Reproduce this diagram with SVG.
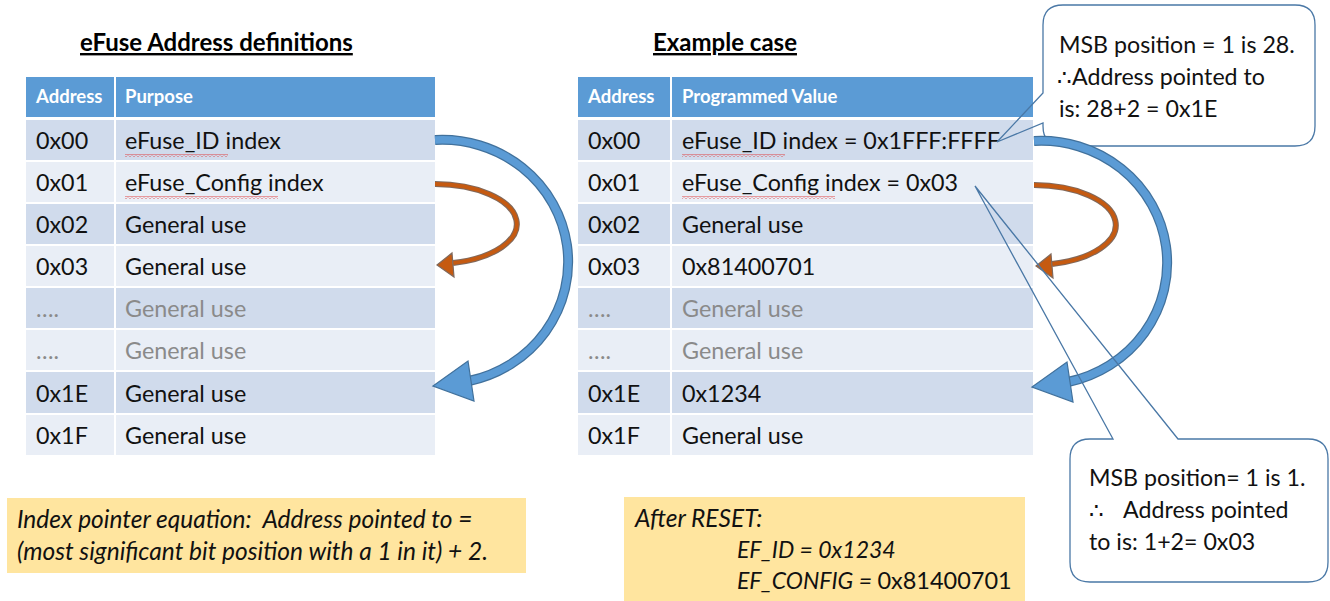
<svg xmlns="http://www.w3.org/2000/svg" width="1330" height="601" viewBox="0 0 1330 601">
<style>
text{font-family:Lato,"Open Sans","Liberation Sans",sans-serif;}
.title{font-size:24px;font-weight:bold;fill:#000;text-decoration:underline;}
.hdr{fill:#5B9BD5;}
.hd{font-size:18.5px;font-weight:bold;fill:#fff;}
.dk{fill:#D0DBEC;}
.lt{fill:#E9EEF6;}
.c{font-size:23.3px;fill:#111;}
.g{font-size:23.3px;fill:#8A8A8A;}
.note{fill:#FFE59F;}
.it{font-size:24.5px;font-style:italic;fill:#111;}
.it2{font-size:23px;font-style:italic;fill:#111;}
.up{font-size:23.5px;fill:#111;}
.co{font-size:23.2px;fill:#111;}
.cob{fill:#fff;stroke:none;}
.col{fill:none;stroke:#4A78A6;stroke-width:1.3;}
.bo{fill:none;stroke:#41719C;stroke-width:10;}
.bi{fill:none;stroke:#5B9BD5;stroke-width:7.5;}
.bh{fill:#5B9BD5;stroke:#41719C;stroke-width:1.2;}
.oo{fill:none;stroke:#80695C;stroke-width:6;}
.oi{fill:none;stroke:#C55A11;stroke-width:3.8;}
.oh{fill:#C55A11;stroke:#80695C;stroke-width:1.2;}
</style>
<defs>
<pattern id="sq" width="4" height="3" patternUnits="userSpaceOnUse">
<path d="M0,2.5 L2,0.5 L4,2.5" fill="none" stroke="#E03030" stroke-width="0.9"/>
</pattern>
</defs>

<g id="left-title"><text class="title" x="80" y="51">eFuse Address definitions</text></g>
<g id="right-title"><text class="title" x="653" y="51">Example case</text></g>

<g id="left-table">
<rect class="hdr" x="26" y="77" width="88" height="40"/>
<rect class="hdr" x="116" y="77" width="319" height="40"/>
<text class="hd" x="36" y="103">Address</text>
<text class="hd" x="125" y="103">Purpose</text>
<rect class="dk" x="26" y="120" width="88" height="40"/><rect class="dk" x="116" y="120" width="319" height="40"/>
<rect class="lt" x="26" y="162" width="88" height="40"/><rect class="lt" x="116" y="162" width="319" height="40"/>
<rect class="dk" x="26" y="204" width="88" height="40"/><rect class="dk" x="116" y="204" width="319" height="40"/>
<rect class="lt" x="26" y="246" width="88" height="40"/><rect class="lt" x="116" y="246" width="319" height="40"/>
<rect class="dk" x="26" y="288" width="88" height="40"/><rect class="dk" x="116" y="288" width="319" height="40"/>
<rect class="lt" x="26" y="330" width="88" height="40"/><rect class="lt" x="116" y="330" width="319" height="40"/>
<rect class="dk" x="26" y="372" width="88" height="41"/><rect class="dk" x="116" y="372" width="319" height="41"/>
<rect class="lt" x="26" y="415" width="88" height="40"/><rect class="lt" x="116" y="415" width="319" height="40"/>
<text class="c" x="36" y="149">0x00</text><text class="c" x="125" y="149">eFuse_ID index</text>
<text class="c" x="36" y="191">0x01</text><text class="c" x="125" y="191">eFuse_Config index</text>
<text class="c" x="36" y="233">0x02</text><text class="c" x="125" y="233">General use</text>
<text class="c" x="36" y="275">0x03</text><text class="c" x="125" y="275">General use</text>
<text class="g" x="36" y="317">….</text><text class="g" x="125" y="317">General use</text>
<text class="g" x="36" y="359">….</text><text class="g" x="125" y="359">General use</text>
<text class="c" x="36" y="402">0x1E</text><text class="c" x="125" y="402">General use</text>
<text class="c" x="36" y="444">0x1F</text><text class="c" x="125" y="444">General use</text>
<rect x="125" y="154" width="103" height="3" fill="url(#sq)"/>
<rect x="125" y="196" width="153" height="3" fill="url(#sq)"/>
</g>

<g id="right-table">
<rect class="hdr" x="578" y="77" width="92" height="40"/>
<rect class="hdr" x="672" y="77" width="361" height="40"/>
<text class="hd" x="588" y="103">Address</text>
<text class="hd" x="682" y="103">Programmed Value</text>
<rect class="dk" x="578" y="120" width="92" height="40"/><rect class="dk" x="672" y="120" width="361" height="40"/>
<rect class="lt" x="578" y="162" width="92" height="40"/><rect class="lt" x="672" y="162" width="361" height="40"/>
<rect class="dk" x="578" y="204" width="92" height="40"/><rect class="dk" x="672" y="204" width="361" height="40"/>
<rect class="lt" x="578" y="246" width="92" height="40"/><rect class="lt" x="672" y="246" width="361" height="40"/>
<rect class="dk" x="578" y="288" width="92" height="40"/><rect class="dk" x="672" y="288" width="361" height="40"/>
<rect class="lt" x="578" y="330" width="92" height="40"/><rect class="lt" x="672" y="330" width="361" height="40"/>
<rect class="dk" x="578" y="372" width="92" height="41"/><rect class="dk" x="672" y="372" width="361" height="41"/>
<rect class="lt" x="578" y="415" width="92" height="40"/><rect class="lt" x="672" y="415" width="361" height="40"/>
<text class="c" x="588" y="149">0x00</text><text class="c" x="682" y="149">eFuse_ID index = 0x1FFF:FFFF</text>
<text class="c" x="588" y="191">0x01</text><text class="c" x="682" y="191">eFuse_Config index = 0x03</text>
<text class="c" x="588" y="233">0x02</text><text class="c" x="682" y="233">General use</text>
<text class="c" x="588" y="275">0x03</text><text class="c" x="682" y="275">0x81400701</text>
<text class="g" x="588" y="317">….</text><text class="g" x="682" y="317">General use</text>
<text class="g" x="588" y="359">….</text><text class="g" x="682" y="359">General use</text>
<text class="c" x="588" y="402">0x1E</text><text class="c" x="682" y="402">0x1234</text>
<text class="c" x="588" y="444">0x1F</text><text class="c" x="682" y="444">General use</text>
<rect x="682" y="154" width="103" height="3" fill="url(#sq)"/>
<rect x="682" y="196" width="153" height="3" fill="url(#sq)"/>
</g>

<g id="equation-note">
<rect class="note" x="7" y="498" width="519" height="75"/>
<text class="it" x="17" y="528" xml:space="preserve">Index pointer equation:  Address pointed to =</text>
<text class="it" x="17" y="560">(most significant bit position with a 1 in it) + 2.</text>
</g>

<g id="reset-note">
<rect class="note" x="624" y="497" width="401" height="104"/>
<text class="it" x="635" y="527">After RESET:</text>
<text class="it2" x="737" y="558">EF_ID = 0x1234</text>
<text x="737" y="589"><tspan class="it2">EF_CONFIG = </tspan><tspan class="up">0x81400701</tspan></text>
</g>

<g id="callout-id">
<rect class="cob" x="1043" y="5" width="272" height="141" rx="20"/>
<path class="col" d="M1063,5 H1295 Q1315,5 1315,25 V126 Q1315,146 1295,146 H1063 Q1043,146 1043,126 V123 L997,142 L1043,93 V25 Q1043,5 1063,5 Z"/>
<text class="co" x="1059" y="53">MSB position = 1 is 28.</text>
<text class="co" x="1057" y="85">∴Address pointed to</text>
<text class="co" x="1059" y="117">is: 28+2 = 0x1E</text>
</g>

<g id="callout-config">
<rect class="cob" x="1070" y="439" width="258" height="143" rx="20"/>
<text class="co" x="1089" y="486">MSB position= 1 is 1.</text>
<text class="co" x="1089" y="518">∴<tspan x="1123">Address pointed</tspan></text>
<text class="co" x="1089" y="550">to is: 1+2= 0x03</text>
</g>

<g id="connectors">
<g id="left-arrows">
<path class="bo" d="M435,140 A126 122 0 0 1 469,381"/>
<path class="bi" d="M435,140 A126 122 0 0 1 469,381"/>
<polygon class="bh" points="433,386 468,361 474,401"/>
<path class="oo" d="M435,184 A82 40 0 0 1 453,263"/>
<path class="oi" d="M435,184 A82 40 0 0 1 453,263"/>
<polygon class="oh" points="437,265 452,253 454,277"/>
</g>
<g id="right-arrows" transform="translate(599,1)">
<path class="bo" d="M435,140 A126 122 0 0 1 469,381"/>
<path class="bi" d="M435,140 A126 122 0 0 1 469,381"/>
<polygon class="bh" points="433,386 468,361 474,401"/>
<path class="oo" d="M435,184 A82 40 0 0 1 453,263"/>
<path class="oi" d="M435,184 A82 40 0 0 1 453,263"/>
<polygon class="oh" points="437,265 452,253 454,277"/>
</g>
</g>

<g id="callout-config-outline">
<path class="col" d="M1090,439 H1113 L975,186 L1178,439 H1308 Q1328,439 1328,459 V562 Q1328,582 1308,582 H1090 Q1070,582 1070,562 V459 Q1070,439 1090,439 Z"/>
</g>
</svg>
